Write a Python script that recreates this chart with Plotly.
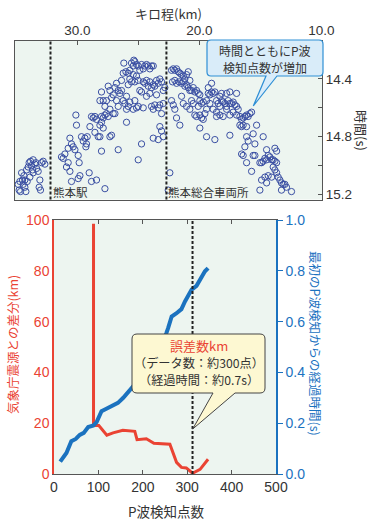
import plotly.graph_objects as go

# ---------------- data: top panel (kilometre post vs detection time) ----------------
kilo_km = [
    # west of Kumamoto station
    34.85, 34.71, 34.77, 34.49, 34.38, 34.30, 34.22, 34.57, 34.16, 34.03, 33.95, 33.84, 33.75, 33.67, 33.62,
    33.48, 33.34, 33.21, 33.07, 33.13, 33.02, 33.89, 34.11, 34.44, 33.62, 33.40, 32.93, 32.80, 32.66, 34.66, 34.30,
    # rising limb
    31.30, 31.16, 31.02, 30.89, 30.75, 30.61, 30.48, 30.61, 30.34, 30.20, 30.75, 30.07, 30.12, 29.93, 29.85,
    29.79, 29.93, 30.48, 29.66, 29.52, 29.38, 29.25, 29.30, 28.97, 28.84, 28.70, 28.56, 28.43, 28.29, 28.15,
    28.02, 27.88, 29.03, 28.84, 28.43, 28.15, 27.74, 28.56, 29.19,
    # peak
    28.15, 28.02, 27.88, 27.74, 27.61, 27.47, 27.33, 27.20, 27.06, 26.92, 26.79, 26.65, 26.51, 26.38, 26.24,
    26.19, 26.02, 25.83, 25.70, 25.56, 25.42, 25.37, 25.29, 25.15, 25.01, 24.88, 24.74, 24.60, 24.47, 24.33,
    24.19, 24.06, 23.92, 23.78, 26.38, 26.24, 26.11, 25.97, 25.83, 25.70, 25.56, 25.42, 25.29, 25.15, 25.01,
    24.88, 24.74, 24.60, 24.47, 24.33, 24.19, 24.06, 23.92, 23.78, 23.65, 23.51, 23.37, 23.24, 23.10, 22.96,
    22.83, 26.79, 26.65, 27.06, 27.33, 27.47, 27.20, 27.33, 26.92, 27.61, 27.74, 27.88, 28.02, 25.97, 25.83,
    25.70, 25.42, 25.29, 25.15, 25.01, 24.60, 24.33, 24.06, 23.92, 23.78, 23.65, 23.51, 23.37, 23.24, 23.10,
    22.96, 23.24, 23.10, 22.96, 23.37, 23.78, 24.74, 26.65, 25.97, 25.01, 28.02,
    # east of the depot line
    22.42, 22.55, 22.28, 22.14, 22.01, 21.87, 21.73, 21.60, 21.46, 21.32, 21.19, 21.05, 20.91, 20.78, 22.20,
    22.01, 21.87, 21.65, 21.46, 21.32, 21.19, 21.05, 20.91, 20.78, 20.64, 20.50, 20.37, 20.23, 20.09, 19.96,
    22.28, 22.14, 22.01, 21.87, 21.60, 21.46, 21.32, 21.05, 20.78, 20.64, 20.50, 20.37, 20.23, 19.96, 19.82,
    19.68, 19.55, 19.41, 19.96, 19.82, 19.68, 19.41, 19.27, 19.14, 19.00, 18.87, 18.73, 19.14, 18.87, 19.96,
    19.41, 18.73, 19.27, 19.00, 20.09,
    18.59, 18.46, 18.32, 18.18, 18.05, 17.91, 17.77, 17.64, 17.50, 17.36, 17.23, 17.09, 16.95, 16.82, 18.59,
    18.32, 18.05, 17.77, 17.50, 17.23, 16.95, 16.68, 16.54, 16.41, 16.27, 16.13, 16.00, 15.86, 15.72, 16.68,
    16.54, 16.41, 16.13, 15.31, 17.50, 18.59, 17.77, 17.50, 16.95, 18.32, 18.18,
    # falling limb
    16.13, 15.59, 14.77, 16.27, 16.00, 15.45, 16.54, 16.41, 15.59, 15.45, 14.49, 14.36, 14.22, 14.08, 14.49,
    14.63, 14.77, 14.90, 15.04, 13.95, 13.81, 13.67, 13.95, 13.81, 13.67, 13.54, 13.40, 13.81, 13.67, 14.63,
    14.90, 14.08, 14.36, 14.49, 13.27, 13.13, 12.99, 12.86, 13.27, 12.45, 15.04, 15.72, 16.13,
]
time_s = [
    15.13, 15.11, 15.17, 15.10, 15.07, 15.15, 15.18, 15.05, 15.03, 15.01, 14.98, 14.97, 15.00, 15.03, 15.05,
    14.99, 15.02, 15.04, 15.10, 15.15, 15.17, 15.08, 15.11, 15.13, 14.96, 14.98, 14.98, 14.97, 14.99, 15.18, 15.10,
    14.94, 14.95, 14.92, 15.01, 14.98, 15.04, 14.85, 14.81, 14.87, 14.89, 14.88, 14.72, 14.65, 14.93, 14.98,
    15.07, 15.09, 15.11, 14.80, 14.83, 14.81, 14.85, 14.87, 14.73, 14.66, 14.67, 14.66, 14.68, 14.80, 14.72,
    14.70, 14.74, 15.05, 15.11, 15.10, 14.80, 15.16, 14.77, 14.80,
    14.55, 14.49, 14.55, 14.59, 14.55, 14.45, 14.48, 14.53, 14.51, 14.46, 14.43, 14.48, 14.50, 14.41, 14.36,
    14.29, 14.35, 14.36, 14.34, 14.29, 14.31, 14.27, 14.28, 14.30, 14.31, 14.34, 14.30, 14.33, 14.31, 14.30,
    14.31, 14.33, 14.31, 14.31, 14.48, 14.55, 14.57, 14.52, 14.44, 14.40, 14.42, 14.37, 14.42, 14.38, 14.41,
    14.48, 14.49, 14.42, 14.43, 14.41, 14.45, 14.42, 14.46, 14.44, 14.45, 14.41, 14.43, 14.40, 14.42, 14.48,
    14.46, 14.55, 14.59, 14.64, 14.61, 14.66, 14.79, 14.80, 14.64, 14.64, 14.65, 14.67, 14.66, 14.61, 14.59,
    14.56, 14.61, 14.55, 14.60, 14.59, 14.60, 14.52, 14.50, 14.59, 14.61, 14.58, 14.51, 14.60, 14.58, 14.64,
    14.57, 14.73, 14.76, 14.80, 14.82, 14.81, 14.85, 14.89, 14.70, 14.96, 14.90,
    15.05, 15.17, 14.34, 14.33, 14.34, 14.33, 14.35, 14.36, 14.37, 14.38, 14.40, 14.37, 14.35, 14.41, 14.42,
    14.41, 14.43, 14.42, 14.43, 14.42, 14.45, 14.44, 14.46, 14.48, 14.48, 14.46, 14.49, 14.48, 14.50, 14.51,
    14.55, 14.58, 14.61, 14.67, 14.72, 14.52, 14.57, 14.59, 14.61, 14.55, 14.57, 14.65, 14.66, 14.65, 14.67,
    14.68, 14.64, 14.61, 14.55, 14.57, 14.56, 14.55, 14.50, 14.51, 14.49, 14.50, 14.49, 14.57, 14.61, 14.74,
    14.80, 14.82, 14.46, 14.43, 14.59,
    14.55, 14.57, 14.59, 14.55, 14.56, 14.57, 14.59, 14.55, 14.57, 14.57, 14.56, 14.58, 14.59, 14.61, 14.63,
    14.65, 14.66, 14.61, 14.65, 14.63, 14.65, 14.66, 14.68, 14.67, 14.66, 14.65, 14.66, 14.64, 14.63, 14.72,
    14.73, 14.72, 14.73, 14.72, 14.79, 14.66, 14.50, 14.49, 14.50, 14.52, 14.50,
    14.80, 14.78, 14.80, 14.87, 14.83, 14.85, 14.92, 14.93, 14.93, 14.93, 14.89, 14.93, 14.94, 14.96, 14.96,
    14.95, 14.97, 14.98, 14.98, 14.96, 14.97, 14.98, 15.01, 15.03, 15.05, 15.08, 15.10, 14.88, 14.90, 15.08,
    15.10, 15.08, 15.07, 15.12, 15.12, 15.13, 15.13, 15.15, 15.17, 15.18, 15.17, 15.04, 14.98,
]
station_km = [32.2, 22.7]
station_names = ["熊本駅", "熊本総合車両所"]

# ---------------- data: bottom panel ----------------
detect_err = [89, 89, 101, 119, 133, 155, 182, 187, 208, 225, 261, 276, 287, 298, 312, 329, 347]
error_km = [98.5, 19.1, 19.1, 15.3, 16.2, 17.2, 16.8, 13.5, 13.9, 12.1, 11.7, 4.6, 2.6, 2.4, 0.3, 1.8, 5.8]
detect_time = [14, 28, 39, 49, 58, 67, 77, 89, 96, 107, 118, 133, 144, 156, 171, 190, 210, 230, 245, 253,
               257, 265, 276, 287, 295, 310, 321, 332, 340, 347]
elapsed_s = [0.049, 0.083, 0.129, 0.138, 0.154, 0.162, 0.185, 0.191, 0.204, 0.247, 0.257, 0.268, 0.280, 0.300,
             0.330, 0.370, 0.410, 0.470, 0.520, 0.554, 0.574, 0.620, 0.633, 0.649, 0.679, 0.726, 0.741, 0.778,
             0.798, 0.811]
marker_points = 312

# ---------------- layout helpers ----------------
W, H = 377, 521
FONT = "Noto Sans CJK JP"
NUM_FONT = "Liberation Sans"
RED = "#ea4333"
BLUE = "#1b72bf"
BG = "#edf5f0"
GRAY = "#555555"
TXT = "#333333"


def px(x):
    return x / W


def py(y):
    return 1 - y / H


def bubble_path(x0, y0, x1, y1, r, tail):
    # tail: (base_left_x, base_right_x, tip_x, tip_y) on the bottom edge
    bl, br, tx, ty = tail
    pts = []
    pts.append(f"M {px(x0 + r)},{py(y0)}")
    pts.append(f"L {px(x1 - r)},{py(y0)}")
    pts.append(f"Q {px(x1)},{py(y0)} {px(x1)},{py(y0 + r)}")
    pts.append(f"L {px(x1)},{py(y1 - r)}")
    pts.append(f"Q {px(x1)},{py(y1)} {px(x1 - r)},{py(y1)}")
    pts.append(f"L {px(br)},{py(y1)}")
    pts.append(f"L {px(tx)},{py(ty)}")
    pts.append(f"L {px(bl)},{py(y1)}")
    pts.append(f"L {px(x0 + r)},{py(y1)}")
    pts.append(f"Q {px(x0)},{py(y1)} {px(x0)},{py(y1 - r)}")
    pts.append(f"L {px(x0)},{py(y0 + r)}")
    pts.append(f"Q {px(x0)},{py(y0)} {px(x0 + r)},{py(y0)}")
    pts.append("Z")
    return " ".join(pts)


fig = go.Figure()

fig.add_trace(go.Scatter(
    x=kilo_km, y=time_s, mode="markers", xaxis="x", yaxis="y",
    marker=dict(symbol="circle-open", size=6.3, color="#3a4fa3", line=dict(width=1)),
    hoverinfo="skip", showlegend=False))

fig.add_trace(go.Scatter(
    x=detect_err, y=error_km, mode="lines", xaxis="x2", yaxis="y2",
    line=dict(color=RED, width=3), hoverinfo="skip", showlegend=False))

fig.add_trace(go.Scatter(
    x=detect_time, y=elapsed_s, mode="lines", xaxis="x2", yaxis="y3",
    line=dict(color=BLUE, width=4), hoverinfo="skip", showlegend=False))

tick_font = dict(family=NUM_FONT, size=13.5, color=TXT)

fig.update_layout(
    template="none",
    width=W, height=H, margin=dict(l=0, r=0, t=0, b=0, autoexpand=False),
    paper_bgcolor="white", plot_bgcolor=BG,
    font=dict(family=FONT, color=TXT),
    showlegend=False,
    xaxis=dict(domain=[px(14.5), px(322)], anchor="y", side="top", automargin=False,
               range=[35.15, 9.95], tickvals=[30, 25, 20, 15, 10],
               ticktext=["30.0", "", "20.0", "", "10.0"], ticks="inside", ticklen=4,
               tickcolor=GRAY, showline=True, linecolor=GRAY, linewidth=1, mirror=True,
               showgrid=False, zeroline=False, tickfont=tick_font),
    yaxis=dict(domain=[py(199.5), py(41)], anchor="x", side="right", automargin=False,
               range=[15.235, 14.137], tickvals=[14.2, 14.4, 14.6, 14.8, 15.0, 15.2],
               ticktext=["", "14.4", "", "14.8", "", "15.2"], ticks="inside", ticklen=4,
               tickcolor=GRAY, showline=True, linecolor=GRAY, linewidth=1, mirror=True,
               showgrid=False, zeroline=False, tickfont=tick_font),
    xaxis2=dict(domain=[px(54), px(276)], anchor="y2", range=[0, 500], tickvals=[0, 100, 200, 300, 400, 500],
                automargin=False,
                ticks="inside", ticklen=4, tickcolor=GRAY, showline=True, linecolor=GRAY, linewidth=1,
                mirror="ticks", showgrid=False, zeroline=False,
                tickfont=dict(family=NUM_FONT, size=14, color=TXT)),
    yaxis2=dict(domain=[py(474), py(220)], anchor="x2", range=[0, 100], tickvals=[0, 20, 40, 60, 80, 100],
                automargin=False,
                ticks="", showline=True, linecolor=RED, linewidth=1.5, showgrid=False, zeroline=False,
                tickfont=dict(family=NUM_FONT, size=14, color=RED)),
    yaxis3=dict(domain=[py(474), py(220)], anchor="x2", overlaying="y2", side="right", range=[0, 1],
                automargin=False,
                tickvals=[0, 0.2, 0.4, 0.6, 0.8, 1.0], tickformat=".1f", ticks="outside", ticklen=5,
                tickcolor=BLUE, showline=True, linecolor=BLUE, linewidth=1.5, showgrid=False,
                zeroline=False, tickfont=dict(family=NUM_FONT, size=14, color=BLUE)),
)

shapes = []
for k in station_km:
    shapes.append(dict(type="line", xref="x", yref="y domain", x0=k, x1=k, y0=0, y1=1,
                       line=dict(color="#222222", width=2, dash="3px,2px")))
shapes.append(dict(type="line", xref="x2", yref="y2 domain", x0=marker_points, x1=marker_points, y0=0, y1=1,
                   line=dict(color="#222222", width=2, dash="3px,2px")))
# speech bubbles
shapes.append(dict(type="path", xref="paper", yref="paper",
                   path=bubble_path(207, 40, 323, 76, 4, (266, 277, 253.3, 106)),
                   fillcolor="#d9ecf9", line=dict(color="#2f8fd5", width=1.2), layer="above"))
shapes.append(dict(type="path", xref="paper", yref="paper",
                   path=bubble_path(132, 334, 265, 393, 5, (213, 235, 192.7, 429)),
                   fillcolor="#fdf8d2", line=dict(color="#444444", width=1), layer="above"))
fig.update_layout(shapes=shapes)


def label(x, y, text, size, color=TXT, angle=0):
    return dict(x=px(x), y=py(y), xref="paper", yref="paper", text=text, showarrow=False,
                xanchor="center", yanchor="middle", textangle=angle, borderpad=0,
                font=dict(family=FONT, size=size, color=color))


ann = []
for k, name in zip(station_km, station_names):
    ann.append(dict(x=k, xref="x", y=py(192), yref="paper", text=name, showarrow=False,
                    xanchor="left", yanchor="middle", xshift=1, borderpad=0,
                    font=dict(family=FONT, size=11.5, color=TXT)))
ann.append(label(168, 13.5, "キロ程(km)", 13))
ann.append(label(362, 130, "時間(s)", 13, angle=90))
ann.append(label(265, 50, "時間とともにP波", 12))
ann.append(label(265, 67, "検知点数が増加", 12))
ann.append(label(12, 345, "気象庁震源との差分(km)", 12.5, RED, -90))
ann.append(label(316, 343, "最初のP波検知からの経過時間(s)", 12.5, BLUE, 90))
ann.append(label(166, 510.5, "P波検知点数", 13.5))
ann.append(label(199, 345, "誤差数km", 13, RED))
ann.append(label(199, 363, "（データ数：約300点）", 12.2))
ann.append(label(199, 380, "（経過時間：約0.7s）", 12.2))
fig.update_layout(annotations=ann)

# remove the page's default 8px body margin so the figure fills the window exactly
fig.write_html("out.html", config={"displayModeBar": False},
               post_script="document.body.style.margin='0px';")
